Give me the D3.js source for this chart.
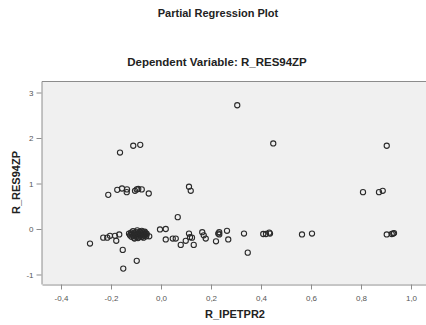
<!DOCTYPE html>
<html>
<head>
<meta charset="utf-8">
<script src="https://cdn.jsdelivr.net/npm/d3@7"></script>
<style>
  body { margin: 0; background: #fff; overflow: hidden; }
  text { font-family: "Liberation Sans", Arial, sans-serif; }
</style>
</head>
<body>
<div id="chart"></div>
<script>
// R_IPETPR2 (x) and R_RES94ZP (y) residuals
var ipetpr2 = [
  -0.164, -0.111, -0.083, 0.305, 0.449, 0.903,
  -0.211, -0.175, -0.156, -0.136, -0.137, -0.104, -0.097, -0.091, -0.077, -0.049, 0.112, 0.119, 0.808, 0.872, 0.887,
  0.067, -0.284, -0.231, -0.215, -0.204, -0.184, -0.167, -0.179, -0.153, -0.151, -0.097, -0.047, -0.004, 0.019, 0.019,
  0.047, 0.059, 0.079, 0.099, 0.112, 0.116, 0.124, 0.131, 0.165, 0.171, 0.179, 0.220, 0.229, 0.233, 0.233, 0.264, 0.269,
  0.332, 0.347, 0.409, 0.420, 0.433, 0.436, 0.564, 0.604, 0.903, 0.923, 0.929, 0.932,
  -0.128, -0.124, -0.120, -0.118, -0.115, -0.112, -0.110, -0.108, -0.105, -0.103, -0.101, -0.099, -0.097, -0.095,
  -0.093, -0.091, -0.089, -0.087, -0.085, -0.083, -0.081, -0.079, -0.077, -0.075, -0.073, -0.071, -0.069, -0.067,
  -0.065, -0.063, -0.061, -0.059, -0.057, -0.106, -0.092, -0.118, -0.083, -0.070
];
var res94zp = [
  1.68, 1.83, 1.85, 2.72, 1.88, 1.83,
  0.75, 0.86, 0.89, 0.87, 0.81, 0.84, 0.87, 0.88, 0.87, 0.78, 0.93, 0.84, 0.81, 0.81, 0.84,
  0.26, -0.32, -0.19, -0.19, -0.15, -0.15, -0.12, -0.26, -0.46, -0.87, -0.70, -0.16, -0.01, 0.00, -0.23,
  -0.21, -0.21, -0.35, -0.26, -0.10, -0.18, -0.19, -0.35, -0.07, -0.14, -0.21, -0.27, -0.10, -0.07, -0.12, -0.04, -0.23,
  -0.10, -0.52, -0.11, -0.11, -0.08, -0.10, -0.12, -0.10, -0.12, -0.11, -0.10, -0.09,
  -0.10, -0.14, -0.08, -0.17, -0.12, -0.05, -0.15, -0.19, -0.10, -0.13, -0.07, -0.17, -0.11, -0.03,
  -0.14, -0.09, -0.18, -0.12, -0.06, -0.15, -0.10, -0.13, -0.04, -0.17, -0.08, -0.12, -0.15, -0.10,
  -0.06, -0.13, -0.09, -0.16, -0.11, -0.21, -0.20, -0.11, -0.07, -0.19
];
var xTicks = [-0.4, -0.2, 0.0, 0.2, 0.4, 0.6, 0.8, 1.0];
var yTicks = [-1, 0, 1, 2, 3];

var W = 426, H = 325;
var plot = {left: 42, top: 81, right: 428, bottom: 284};

var svg = d3.select("#chart").append("svg")
    .attr("width", W)
    .attr("height", H);

var x = d3.scaleLinear().domain([-0.476, 1.068]).range([plot.left, plot.right]);
var y = d3.scaleLinear().domain([-1.209, 3.253]).range([plot.bottom, plot.top]);

// plot background
svg.append("rect")
    .attr("x", plot.left).attr("y", plot.top)
    .attr("width", plot.right - plot.left).attr("height", plot.bottom - plot.top)
    .style("fill", "#f0f0f0");

// frame line on top
svg.append("line")
    .attr("x1", plot.left).attr("x2", plot.right)
    .attr("y1", plot.top + 0.5).attr("y2", plot.top + 0.5)
    .style("stroke", "#8c8c8c");

var fmt = function(d) { return d3.format(".1f")(d).replace(".", ",").replace("−", "-"); };

var xAxis = svg.append("g")
    .attr("transform", "translate(0," + (plot.bottom + 0.5) + ")")
    .call(d3.axisBottom(x).tickValues(xTicks).tickSize(5).tickSizeOuter(0).tickFormat(fmt));

var yAxis = svg.append("g")
    .attr("transform", "translate(" + (plot.left - 0.5) + ",0)")
    .call(d3.axisLeft(y).tickValues(yTicks).tickSize(5).tickSizeOuter(0).tickFormat(d3.format("d")));

[xAxis, yAxis].forEach(function(a) {
    a.select(".domain").style("stroke", "#8c8c8c");
    a.selectAll(".tick line").style("stroke", "#8c8c8c");
    a.selectAll(".tick text")
        .style("fill", "#555")
        .style("font-size", "8px")
        .style("font-family", "'Liberation Sans', Arial, sans-serif");
});
xAxis.selectAll(".tick text").attr("dy", "1em");
yAxis.selectAll(".tick text").text(function(d) { return String(d).replace("−", "-"); });

// points
var pts = ipetpr2.map(function(v, i) { return [v, res94zp[i]]; });
svg.append("g").selectAll("circle")
    .data(pts)
    .enter().append("circle")
    .attr("cx", function(d) { return x(d[0]); })
    .attr("cy", function(d) { return y(d[1]); })
    .attr("r", 2.6)
    .style("fill", "none")
    .style("stroke", "#2a2a2a")
    .style("stroke-width", 1.1);

// titles
svg.append("text")
    .attr("x", 218).attr("y", 17)
    .attr("text-anchor", "middle")
    .style("font-size", "11px").style("font-weight", "bold").style("fill", "#222")
    .text("Partial Regression Plot");

svg.append("text")
    .attr("x", 217).attr("y", 66)
    .attr("text-anchor", "middle")
    .style("font-size", "11.5px").style("font-weight", "bold").style("fill", "#222")
    .text("Dependent Variable: R_RES94ZP");

svg.append("text")
    .attr("x", 235).attr("y", 318)
    .attr("text-anchor", "middle")
    .style("font-size", "11px").style("font-weight", "bold").style("fill", "#222")
    .text("R_IPETPR2");

svg.append("text")
    .attr("transform", "translate(20," + ((plot.top + plot.bottom) / 2) + ") rotate(-90)")
    .attr("text-anchor", "middle")
    .style("font-size", "11px").style("font-weight", "bold").style("fill", "#222")
    .text("R_RES94ZP");
</script>
</body>
</html>
